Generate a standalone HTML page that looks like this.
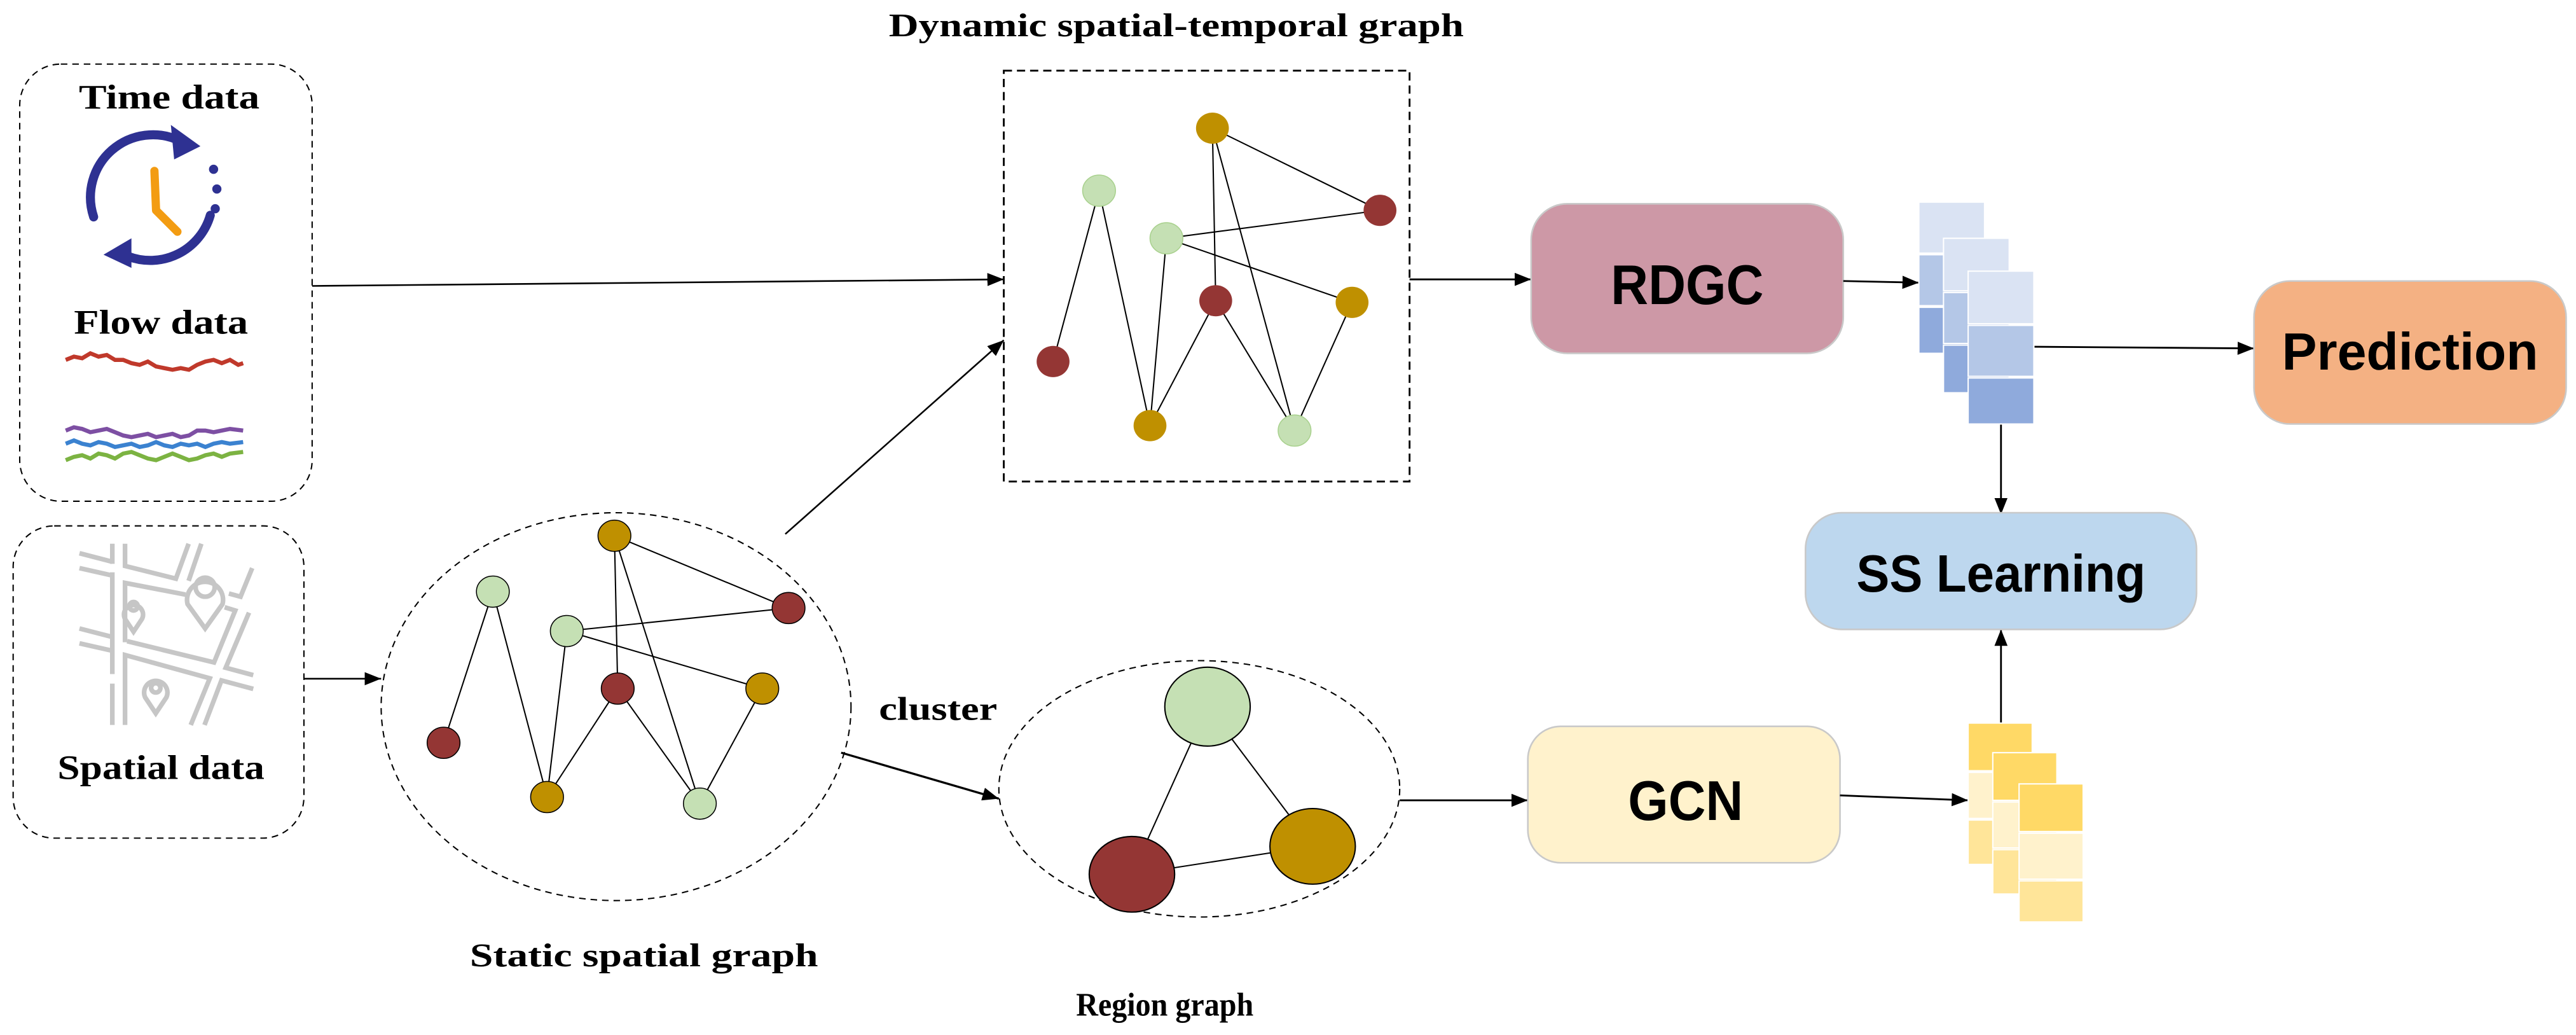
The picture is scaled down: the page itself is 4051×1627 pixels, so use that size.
<!DOCTYPE html>
<html><head><meta charset="utf-8"><style>
html,body{margin:0;padding:0;background:#fff;}
svg{display:block;}
.serif{font-family:"Liberation Serif",serif;font-weight:bold;}
.sans{font-family:"Liberation Sans",sans-serif;font-weight:bold;}
</style></head><body>
<svg width="4051" height="1627" viewBox="0 0 1568 629.8" preserveAspectRatio="none" xmlns="http://www.w3.org/2000/svg">
<defs>
<marker id="ar" markerWidth="10" markerHeight="8" refX="10" refY="4" orient="auto" markerUnits="userSpaceOnUse">
<path d="M0,0 L10,4 L0,8 Z" fill="#000"/>
</marker>
</defs>
<rect width="1568" height="629.8" fill="#fff"/>

<!-- Time / Flow box -->
<rect x="12" y="39" width="178" height="266" rx="25" fill="none" stroke="#000" stroke-width="0.8" stroke-dasharray="4,3"/>
<text x="103" y="66" class="serif" font-size="21" text-anchor="middle" textLength="110" lengthAdjust="spacingAndGlyphs">Time data</text>
<!-- clock icon -->
<g fill="none" stroke="#2e3192" stroke-width="5.5" stroke-linecap="round">
<path d="M57,132 A38,38 0 0 1 110,86"/>
<path d="M128,131 A38,38 0 0 1 78,156"/>
</g>
<path d="M104,76 L122,89 L106,97 Z" fill="#2e3192"/>
<path d="M63,155 L80,145 L80,163 Z" fill="#2e3192"/>
<circle cx="130" cy="103" r="2.8" fill="#2e3192"/>
<circle cx="132" cy="115" r="2.8" fill="#2e3192"/>
<circle cx="131" cy="127" r="2.8" fill="#2e3192"/>
<path d="M94,104 L95,128 L108,141" fill="none" stroke="#f39c12" stroke-width="5" stroke-linecap="round" stroke-linejoin="round"/>
<text x="98" y="203" class="serif" font-size="21" text-anchor="middle" textLength="106" lengthAdjust="spacingAndGlyphs">Flow data</text>
<polyline fill="none" stroke="#c0392b" stroke-width="2.5" points="40,219 45,217 50,218 55,215 60,217 65,216 70,219 75,219 80,221 85,222 90,220 95,223 100,224 105,225 110,224 115,225 120,222 125,220 130,219 135,221 140,219 145,222 148,221"/>
<polyline fill="none" stroke="#7d4fa3" stroke-width="2.5" points="40,262 45,260 50,261 55,263 60,262 65,261 70,263 75,265 80,266 85,265 90,264 95,266 100,265 105,264 110,266 115,265 120,262 125,262 130,263 135,262 140,261 148,262"/>
<polyline fill="none" stroke="#3b82d0" stroke-width="2.5" points="40,270 45,268 50,270 55,271 60,269 65,270 70,272 75,271 80,270 85,272 90,271 95,269 100,271 105,272 110,270 115,271 120,270 125,272 130,270 135,269 140,270 148,269"/>
<polyline fill="none" stroke="#7cb342" stroke-width="2.5" points="40,280 45,278 50,277 55,279 60,276 65,277 70,279 75,276 80,275 85,277 90,279 95,280 100,278 105,276 110,278 115,280 120,279 125,277 130,276 135,278 140,276 148,275"/>

<!-- Spatial box -->
<rect x="8" y="320" width="177" height="190" rx="25" fill="none" stroke="#000" stroke-width="0.8" stroke-dasharray="4,3"/>
<g transform="translate(7.74,317.3) scale(0.129)" fill="none" stroke="#c6c6c6" stroke-width="22">
<polyline points="315,150 470,190"/>
<polyline points="315,220 470,255"/>
<line x1="470" y1="105" x2="470" y2="200"/>
<line x1="470" y1="240" x2="470" y2="720"/>
<line x1="470" y1="765" x2="470" y2="960"/>
<polyline points="530,105 530,210 770,270 830,105"/>
<polyline points="890,105 830,280"/>
<polyline points="530,570 530,290 815,345"/>
<polyline points="1020,340 1075,355 1130,220"/>
<polyline points="315,505 470,545"/>
<polyline points="315,575 470,610"/>
<polyline points="530,960 530,630 930,740 840,960"/>
<polyline points="540,565 950,665 1050,420 1000,405"/>
<polyline points="1115,430 1005,690 1135,725"/>
<polyline points="1135,790 985,750 905,960"/>
<path d="M570,520 L530,460 A45,45 0 1 1 610,460 Z"/>
<circle cx="570" cy="400" r="20"/>
<path d="M908,505 L825,390 A85,85 0 1 1 990,390 Z"/>
<circle cx="908" cy="310" r="45"/>
<path d="M675,905 L625,830 A55,55 0 1 1 725,830 Z"/>
<circle cx="675" cy="785" r="22"/>
</g>
<text x="98" y="474" class="serif" font-size="21" text-anchor="middle" textLength="126" lengthAdjust="spacingAndGlyphs">Spatial data</text>

<!-- arrows left -->
<line x1="190" y1="174" x2="611" y2="170" stroke="#000" stroke-width="1" marker-end="url(#ar)"/>
<line x1="185" y1="413" x2="232" y2="413" stroke="#000" stroke-width="1" marker-end="url(#ar)"/>
<line x1="478" y1="325" x2="611" y2="207" stroke="#000" stroke-width="1" marker-end="url(#ar)"/>
<line x1="512" y1="458" x2="608" y2="486" stroke="#000" stroke-width="1.3" marker-end="url(#ar)"/>

<!-- Static ellipse -->
<ellipse cx="375" cy="430" rx="143" ry="118" fill="none" stroke="#000" stroke-width="0.8" stroke-dasharray="4,3"/>
<g stroke="#000" stroke-width="0.8">
<line x1="374" y1="326" x2="480" y2="370"/>
<line x1="374" y1="326" x2="376" y2="419"/>
<line x1="374" y1="326" x2="426" y2="489"/>
<line x1="345" y1="384" x2="480" y2="370"/>
<line x1="345" y1="384" x2="464" y2="419"/>
<line x1="345" y1="384" x2="333" y2="485"/>
<line x1="300" y1="360" x2="270" y2="452"/>
<line x1="300" y1="360" x2="333" y2="485"/>
<line x1="376" y1="419" x2="333" y2="485"/>
<line x1="376" y1="419" x2="426" y2="489"/>
<line x1="464" y1="419" x2="426" y2="489"/>
</g>
<g stroke="#000" stroke-width="0.6">
<ellipse cx="374" cy="326" rx="10" ry="9.5" fill="#bf9000"/>
<ellipse cx="300" cy="360" rx="10" ry="9.5" fill="#c5e0b4"/>
<ellipse cx="345" cy="384" rx="10" ry="9.5" fill="#c5e0b4"/>
<ellipse cx="480" cy="370" rx="10" ry="9.5" fill="#943634"/>
<ellipse cx="376" cy="419" rx="10" ry="9.5" fill="#943634"/>
<ellipse cx="464" cy="419" rx="10" ry="9.5" fill="#bf9000"/>
<ellipse cx="270" cy="452" rx="10" ry="9.5" fill="#943634"/>
<ellipse cx="333" cy="485" rx="10" ry="9.5" fill="#bf9000"/>
<ellipse cx="426" cy="489" rx="10" ry="9.5" fill="#c5e0b4"/>
</g>
<text x="392" y="588" class="serif" font-size="20" text-anchor="middle" textLength="212" lengthAdjust="spacingAndGlyphs">Static spatial graph</text>
<text x="571" y="438" class="serif" font-size="20" text-anchor="middle" textLength="72" lengthAdjust="spacingAndGlyphs">cluster</text>

<!-- Dynamic box -->
<text x="716" y="22" class="serif" font-size="20" text-anchor="middle" textLength="350" lengthAdjust="spacingAndGlyphs">Dynamic spatial-temporal graph</text>
<rect x="611" y="43" width="247" height="250" fill="none" stroke="#000" stroke-width="1.1" stroke-dasharray="5,3"/>
<g stroke="#000" stroke-width="0.8">
<line x1="738" y1="78" x2="840" y2="128"/>
<line x1="738" y1="78" x2="740" y2="183"/>
<line x1="738" y1="78" x2="788" y2="262"/>
<line x1="710" y1="145" x2="840" y2="128"/>
<line x1="710" y1="145" x2="823" y2="184"/>
<line x1="710" y1="145" x2="700" y2="259"/>
<line x1="669" y1="116" x2="641" y2="220"/>
<line x1="669" y1="116" x2="700" y2="259"/>
<line x1="740" y1="183" x2="700" y2="259"/>
<line x1="740" y1="183" x2="788" y2="262"/>
<line x1="823" y1="184" x2="788" y2="262"/>
</g>
<g>
<ellipse cx="738" cy="78" rx="10" ry="9.5" fill="#bf9000"/>
<ellipse cx="669" cy="116" rx="10" ry="9.5" fill="#c5e0b4" stroke="#a9d18e" stroke-width="0.6"/>
<ellipse cx="840" cy="128" rx="10" ry="9.5" fill="#943634"/>
<ellipse cx="710" cy="145" rx="10" ry="9.5" fill="#c5e0b4" stroke="#a9d18e" stroke-width="0.6"/>
<ellipse cx="740" cy="183" rx="10" ry="9.5" fill="#943634"/>
<ellipse cx="823" cy="184" rx="10" ry="9.5" fill="#bf9000"/>
<ellipse cx="641" cy="220" rx="10" ry="9.5" fill="#943634"/>
<ellipse cx="700" cy="259" rx="10" ry="9.5" fill="#bf9000"/>
<ellipse cx="788" cy="262" rx="10" ry="9.5" fill="#c5e0b4" stroke="#a9d18e" stroke-width="0.6"/>
</g>

<!-- Region graph -->
<ellipse cx="730" cy="480" rx="122" ry="78" fill="none" stroke="#000" stroke-width="0.8" stroke-dasharray="4,3"/>
<g stroke="#000" stroke-width="0.8">
<line x1="735" y1="430" x2="689" y2="532"/>
<line x1="735" y1="430" x2="799" y2="515"/>
<line x1="689" y1="532" x2="799" y2="515"/>
<ellipse cx="735" cy="430" rx="26" ry="24" fill="#c5e0b4"/>
<ellipse cx="689" cy="532" rx="26" ry="23" fill="#943634"/>
<ellipse cx="799" cy="515" rx="26" ry="23" fill="#bf9000"/>
</g>
<text x="709" y="618" class="serif" font-size="20" text-anchor="middle" textLength="108" lengthAdjust="spacingAndGlyphs">Region graph</text>

<!-- arrows mid -->
<line x1="858" y1="170" x2="932" y2="170" stroke="#000" stroke-width="1.1" marker-end="url(#ar)"/>
<line x1="852" y1="487" x2="930" y2="487" stroke="#000" stroke-width="1.1" marker-end="url(#ar)"/>

<!-- RDGC -->
<rect x="932" y="124" width="190" height="91" rx="22" fill="#cd98a6" stroke="#c9c9c9" stroke-width="1"/>
<text x="1027" y="185" class="sans" font-size="34" text-anchor="middle" textLength="93" lengthAdjust="spacingAndGlyphs">RDGC</text>
<!-- GCN -->
<rect x="930" y="442" width="190" height="83" rx="20" fill="#fff2cc" stroke="#c9c9c9" stroke-width="1"/>
<text x="1026" y="499" class="sans" font-size="34" text-anchor="middle" textLength="70" lengthAdjust="spacingAndGlyphs">GCN</text>

<!-- arrows right -->
<line x1="1122" y1="171" x2="1168" y2="172" stroke="#000" stroke-width="1.1" marker-end="url(#ar)"/>
<line x1="1120" y1="484" x2="1198" y2="487" stroke="#000" stroke-width="1.1" marker-end="url(#ar)"/>
<line x1="1238" y1="211" x2="1372" y2="212" stroke="#000" stroke-width="1.1" marker-end="url(#ar)"/>
<line x1="1218" y1="258" x2="1218" y2="313" stroke="#000" stroke-width="1.1" marker-end="url(#ar)"/>
<line x1="1218" y1="440" x2="1218" y2="383" stroke="#000" stroke-width="1.1" marker-end="url(#ar)"/>

<!-- blue stacks -->
<g stroke="#fff" stroke-width="0.8">
<rect x="1168" y="123" width="40" height="31" fill="#dae3f3"/>
<rect x="1168" y="155" width="40" height="31" fill="#b4c7e7"/>
<rect x="1168" y="187" width="40" height="28" fill="#8faadc"/>
<rect x="1183" y="145" width="40" height="32" fill="#dae3f3"/>
<rect x="1183" y="178" width="40" height="31" fill="#b4c7e7"/>
<rect x="1183" y="210" width="40" height="29" fill="#8faadc"/>
<rect x="1198" y="165" width="40" height="32" fill="#dae3f3"/>
<rect x="1198" y="198" width="40" height="31" fill="#b4c7e7"/>
<rect x="1198" y="230" width="40" height="28" fill="#8faadc"/>
</g>
<!-- yellow stacks -->
<g stroke="#fff" stroke-width="0.8">
<rect x="1198" y="440" width="39" height="29" fill="#ffd966"/>
<rect x="1198" y="470" width="39" height="28" fill="#fff2cc"/>
<rect x="1198" y="499" width="39" height="27" fill="#ffe599"/>
<rect x="1213" y="458" width="39" height="29" fill="#ffd966"/>
<rect x="1213" y="488" width="39" height="28" fill="#fff2cc"/>
<rect x="1213" y="517" width="39" height="27" fill="#ffe599"/>
<rect x="1229" y="477" width="39" height="29" fill="#ffd966"/>
<rect x="1229" y="507" width="39" height="28" fill="#fff2cc"/>
<rect x="1229" y="536" width="39" height="25" fill="#ffe599"/>
</g>

<!-- SS Learning -->
<rect x="1099" y="312" width="238" height="71" rx="22" fill="#bdd7ee" stroke="#c9c9c9" stroke-width="1"/>
<text x="1218" y="360" class="sans" font-size="32" text-anchor="middle" textLength="176" lengthAdjust="spacingAndGlyphs">SS Learning</text>

<!-- Prediction -->
<rect x="1372" y="171" width="190" height="87" rx="22" fill="#f4b183" stroke="#c9c9c9" stroke-width="1"/>
<text x="1467" y="225" class="sans" font-size="32" text-anchor="middle" textLength="156" lengthAdjust="spacingAndGlyphs">Prediction</text>
</svg>
</body></html>
